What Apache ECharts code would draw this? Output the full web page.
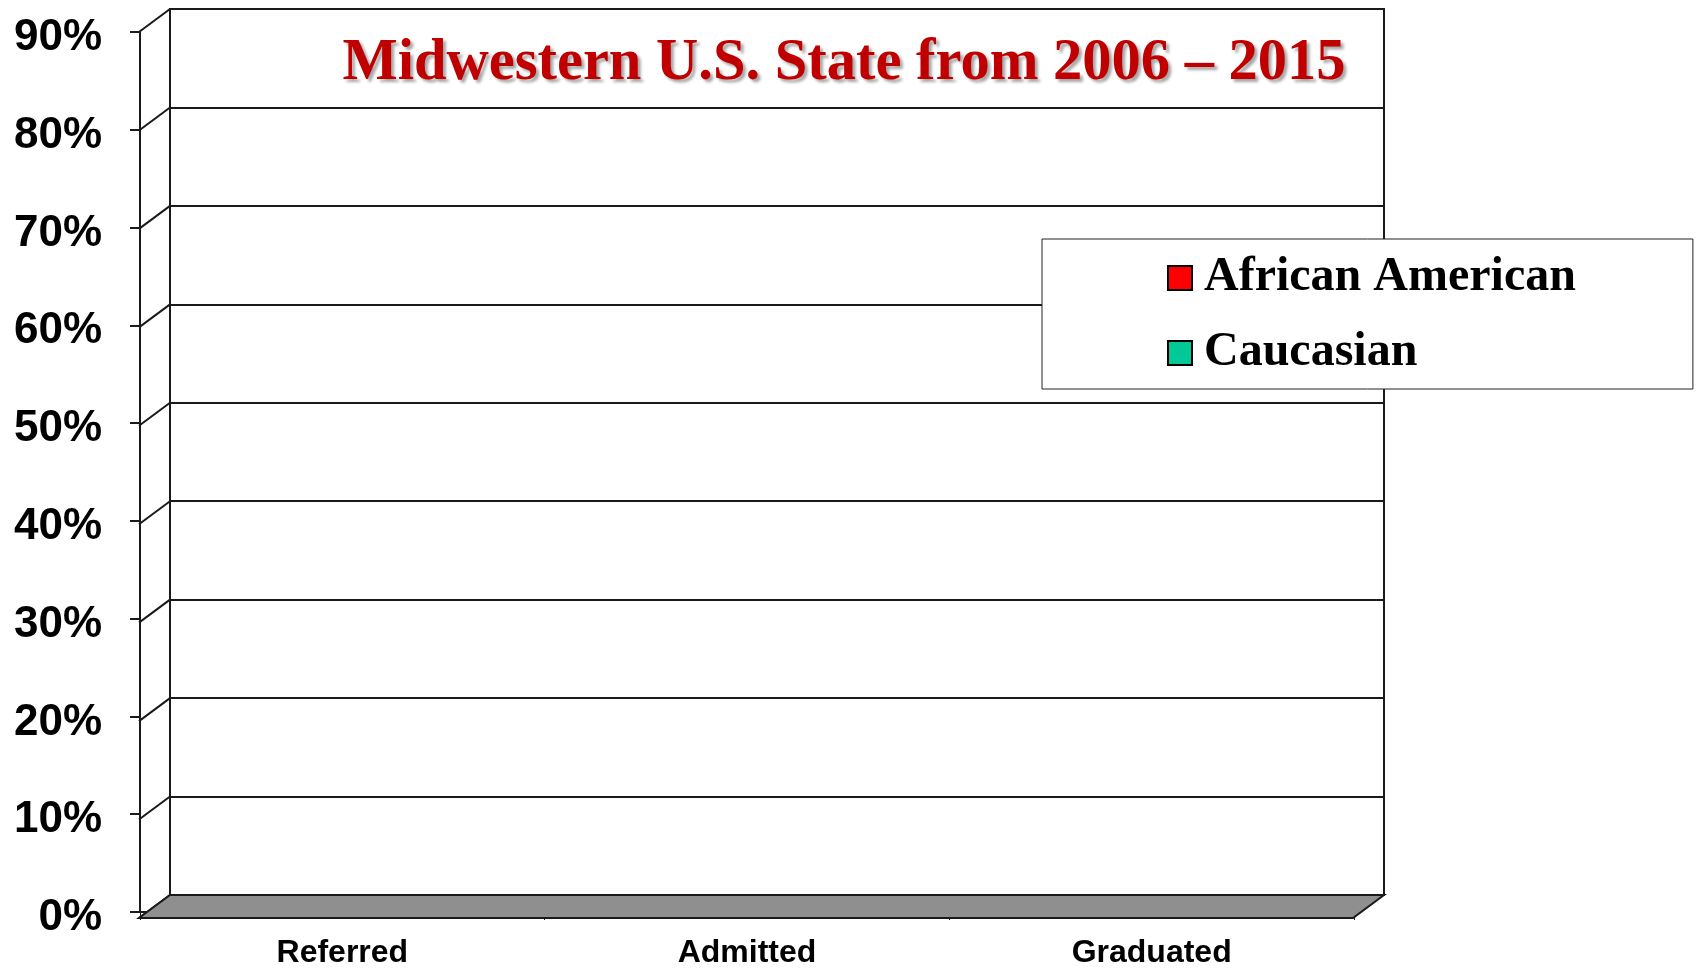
<!DOCTYPE html>
<html>
<head>
<meta charset="utf-8">
<title>Midwestern U.S. State from 2006 – 2015</title>
<script src="https://cdn.jsdelivr.net/npm/echarts@6/dist/echarts.min.js"></script>
<style>
  html, body { margin: 0; padding: 0; background: #fff; }
  #main { width: 1701px; height: 969px; }
</style>
</head>
<body>
<div id="main"></div>
<script>
// categories and series (no bars are drawn in the reference, so values are empty)
const categories = ['Referred', 'Admitted', 'Graduated']
const africanAmerican = [null, null, null]
const caucasian = [null, null, null]
const yTicks = [0, 10, 20, 30, 40, 50, 60, 70, 80, 90]

// depth of the fake 3D frame
const DX = 31
const DY = 23
const lineColor = '#1a1a1a'

const chart = echarts.init(document.getElementById('main'))

// side wall diagonals, one per tick
function renderWall (params, api) {
  const cs = params.coordSys
  const y = api.coord([0, api.value(1)])[1]
  return {
    type: 'line',
    shape: { x1: cs.x, y1: y, x2: cs.x - DX, y2: y + DY },
    style: { stroke: lineColor, lineWidth: 2 }
  }
}

// grey floor under the plot
function renderFloor (params, api) {
  const cs = params.coordSys
  const yb = api.coord([0, api.value(1)])[1]
  const xr = cs.x + cs.width
  return {
    type: 'polygon',
    shape: { points: [[cs.x, yb], [xr, yb], [xr - DX, yb + DY], [cs.x - DX, yb + DY]] },
    style: { fill: '#8f8f8f', stroke: lineColor, lineWidth: 2 }
  }
}

const option = {
  backgroundColor: '#fff',
  animation: false,
  title: {
    text: 'Midwestern U.S. State from 2006 – 2015',
    left: 839,
    top: 29,
    textAlign: 'center',
    textStyle: {
      fontFamily: 'Liberation Serif',
      fontWeight: 'bold',
      fontSize: 58.5,
      color: '#c00000',
      textShadowColor: 'rgba(0,0,0,0.35)',
      textShadowBlur: 3,
      textShadowOffsetX: 3,
      textShadowOffsetY: 3
    }
  },
  legend: {
    orient: 'vertical',
    left: 1042,
    top: 239,
    data: ['African American', 'Caucasian'],
    icon: 'rect',
    itemWidth: 24,
    itemHeight: 24,
    itemGap: 27,
    padding: [15, 117, 12, 125],
    backgroundColor: '#fff',
    borderColor: '#222',
    borderWidth: 1,
    itemStyle: { borderColor: '#000', borderWidth: 2 },
    textStyle: {
      fontFamily: 'Liberation Serif',
      fontWeight: 'bold',
      fontSize: 48,
      color: '#000',
      padding: [0, 0, 0, 7]
    },
    z: 10
  },
  grid: [
    // back wall
    { left: 170, right: 317, top: 9, bottom: 74, show: true, backgroundColor: '#fff', borderColor: lineColor, borderWidth: 2 },
    // front axes
    { left: 140, right: 347, top: 32, bottom: 51 }
  ],
  xAxis: [
    {
      gridIndex: 0,
      type: 'category',
      data: categories,
      axisLine: { show: false },
      axisTick: { show: false },
      axisLabel: { show: false },
      splitLine: { show: false }
    },
    {
      gridIndex: 1,
      type: 'category',
      data: categories,
      axisLine: { show: true, lineStyle: { color: lineColor, width: 2 } },
      axisTick: { show: true, length: 8, lineStyle: { color: lineColor, width: 1 } },
      axisLabel: {
        margin: 25,
        color: '#000',
        fontFamily: 'Liberation Sans',
        fontWeight: 'bold',
        fontSize: 32
      }
    }
  ],
  yAxis: [
    {
      gridIndex: 0,
      type: 'value',
      min: 0,
      max: 90,
      interval: 10,
      axisLine: { show: false },
      axisTick: { show: false },
      axisLabel: { show: false },
      splitLine: { show: true, lineStyle: { color: lineColor, width: 2 } }
    },
    {
      gridIndex: 1,
      type: 'value',
      min: 0,
      max: 90,
      interval: 10,
      axisLine: { show: true, lineStyle: { color: lineColor, width: 2 } },
      axisTick: { show: true, length: 10, lineStyle: { color: lineColor, width: 2 } },
      splitLine: { show: false },
      axisLabel: {
        margin: 38,
        verticalAlign: 'top',
        lineHeight: 12,
        formatter: '{value}%',
        color: '#000',
        fontFamily: 'Liberation Sans',
        fontWeight: 'bold',
        fontSize: 44
      }
    }
  ],
  series: [
    {
      name: 'African American',
      type: 'bar',
      xAxisIndex: 0,
      yAxisIndex: 0,
      data: africanAmerican,
      itemStyle: { color: '#ff0000', borderColor: '#000', borderWidth: 2 }
    },
    {
      name: 'Caucasian',
      type: 'bar',
      xAxisIndex: 0,
      yAxisIndex: 0,
      data: caucasian,
      itemStyle: { color: '#00c896', borderColor: '#000', borderWidth: 2 }
    },
    {
      type: 'custom',
      xAxisIndex: 0,
      yAxisIndex: 0,
      renderItem: renderWall,
      data: yTicks.map(v => [0, v]),
      silent: true,
      z: 3
    },
    {
      type: 'custom',
      xAxisIndex: 0,
      yAxisIndex: 0,
      renderItem: renderFloor,
      data: [[0, yTicks[0]]],
      silent: true,
      z: 4
    }
  ]
}

chart.setOption(option)
</script>
</body>
</html>
